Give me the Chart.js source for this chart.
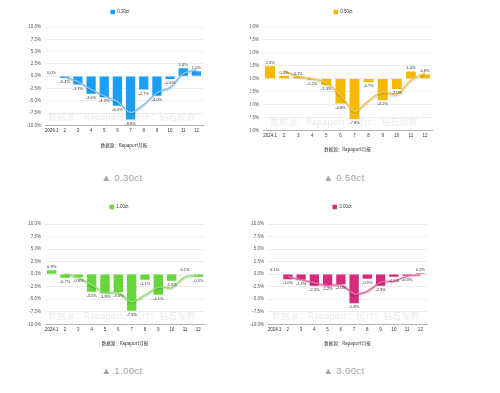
<!DOCTYPE html>
<html>
<head>
<meta charset="utf-8">
<script src="https://cdn.jsdelivr.net/npm/chart.js@4.4.1/dist/chart.umd.min.js"></script>
<style>
  body { margin: 0; background: #fff; width: 500px; height: 393px; position: relative; overflow: hidden; font-family: "Liberation Sans", Arial, sans-serif; }
  .box { position: absolute; width: 250px; }
  .cap { position: absolute; width: 250px; text-align: center; font-size: 9.5px; line-height: 12px; color: #a3a3a3; letter-spacing: 0.4px; }
</style>
</head>
<body>
<div class="box" id="b1" style="left:0;top:0;height:150px"><canvas id="c1"></canvas></div>
<div class="box" id="b2" style="left:250px;top:0;height:154px"><canvas id="c2"></canvas></div>
<div class="box" id="b3" style="left:0;top:200px;height:148px"><canvas id="c3"></canvas></div>
<div class="box" id="b4" style="left:250px;top:200px;height:148px"><canvas id="c4"></canvas></div>

<div class="cap" style="left:-3px;top:172px">▲ 0.30ct</div>
<div class="cap" style="left:219px;top:172px">▲ 0.50ct</div>
<div class="cap" style="left:-3px;top:365px">▲ 1.00ct</div>
<div class="cap" style="left:219px;top:365px">▲ 3.00ct</div>

<script>
// 月份
const months = ['2024.1', '2', '3', '4', '5', '6', '7', '8', '9', '10', '11', '12'];
const yTickValues = [-10, -7.5, -5, -2.5, 0, 2.5, 5, 7.5, 10];

// 每月涨跌幅 (%)
const bars030 = [0.0, -0.4, -1.7, -3.6, -4.3, -6.0, -8.8, -2.7, -4.0, -0.6, 1.6, 1.0];
const trend030 = [null, -0.2, -1.1, -2.7, -4.0, -5.2, -7.4, -5.8, -3.4, -2.3, 0.5, 1.3];

const bars050 = [2.4, 0.5, 0.3, -0.2, -1.3, -4.8, -7.8, -0.7, -4.2, -2.0, 1.4, 0.8];
const trend050 = [null, 1.5, 0.4, 0.0, -0.8, -3.1, -6.3, -4.3, -2.5, -3.1, -0.3, 1.1];

const bars100 = [0.8, -0.7, -0.6, -3.5, -3.8, -3.6, -7.3, -1.1, -4.1, -1.3, 0.1, -0.5];
const trend100 = [null, 0.1, -0.7, -2.1, -3.7, -3.7, -5.5, -4.2, -2.6, -2.7, -0.6, -0.2];

const bars300 = [0.1, -1.0, -1.1, -2.3, -2.2, -2.0, -5.8, -0.9, -2.3, -0.5, -0.3, 0.2];
const trend300 = [null, -0.5, -1.1, -1.7, -2.3, -2.1, -3.9, -3.4, -1.6, -1.4, -0.4, -0.1];

const sourceText = '数据源：Rapaport月报';
const watermarkText = '数据源：Rapaport；统计：钻石观察';

// 图例：多留一点空，并稍微挪动位置
const legendGap = {
  id: 'legendGap',
  beforeLayout(chart, args, opts) {
    const lg = chart.legend;
    if (lg && !lg._gapPatched) {
      const fit = lg.fit;
      const draw = lg.draw;
      lg.fit = function () { fit.call(this); this.height += opts.extra; };
      lg.draw = function () {
        this.ctx.save();
        this.ctx.translate(opts.dx, 0);
        draw.call(this);
        this.ctx.restore();
      };
      lg._gapPatched = true;
    }
  }
};

// 水印
const watermark = {
  id: 'watermark',
  beforeDatasetsDraw(chart, args, opts) {
    const { ctx, chartArea, scales } = chart;
    ctx.save();
    ctx.font = '9px "Noto Sans CJK SC", sans-serif';
    ctx.fillStyle = '#ebebeb';
    ctx.textBaseline = 'middle';
    ctx.fillText(watermarkText, chartArea.left + opts.dx, scales.y.getPixelForValue(-8.3));
    ctx.restore();
  }
};

// 柱子上的数值
const barLabels = {
  id: 'barLabels',
  afterDatasetsDraw(chart) {
    const ctx = chart.ctx;
    const idx = chart.data.datasets.findIndex(d => d.type === 'bar');
    const meta = chart.getDatasetMeta(idx);
    const vals = chart.data.datasets[idx].data;
    ctx.save();
    ctx.font = '4px "Liberation Sans", Arial, sans-serif';
    ctx.fillStyle = '#333';
    ctx.textAlign = 'center';
    meta.data.forEach((bar, i) => {
      const v = vals[i];
      const txt = v.toFixed(1) + '%';
      if (v >= 0) {
        ctx.textBaseline = 'bottom';
        ctx.fillText(txt, bar.x, bar.y - 1.5);
      } else {
        ctx.textBaseline = 'top';
        ctx.fillText(txt, bar.x, bar.y + 2);
      }
    });
    ctx.restore();
  }
};

// 趋势线阴影
const lineShadow = {
  id: 'lineShadow',
  beforeDatasetDraw(chart, args) {
    if (args.meta.type !== 'line') return;
    const ctx = chart.ctx;
    ctx.save();
    ctx.shadowColor = 'rgba(0,0,0,0.22)';
    ctx.shadowBlur = 2;
    ctx.shadowOffsetY = 1;
  },
  afterDatasetDraw(chart, args) {
    if (args.meta.type !== 'line') return;
    chart.ctx.restore();
  }
};

function crearGrafico(id, label, bars, trend, barColor, lineColor, p) {
  const ctx = document.getElementById(id).getContext('2d');
  return new Chart(ctx, {
    type: 'bar',
    data: {
      labels: months,
      datasets: [
        {
          type: 'line',
          label: 'trend',
          data: trend,
          borderColor: lineColor,
          borderWidth: 1.5,
          pointRadius: 0,
          tension: 0.3,
          fill: false,
          order: 0
        },
        {
          type: 'bar',
          label: label,
          data: bars,
          backgroundColor: barColor,
          barPercentage: 0.88,
          categoryPercentage: 0.8,
          order: 1
        }
      ]
    },
    options: {
      responsive: true,
      maintainAspectRatio: false,
      animation: false,
      devicePixelRatio: 1,
      layout: { padding: { left: p.L, right: p.R, top: p.T, bottom: 2 } },
      plugins: {
        legend: {
          position: 'top',
          labels: {
            boxWidth: 4.5,
            boxHeight: 4.5,
            padding: 3,
            color: '#333',
            font: { size: 4.5, family: '"Liberation Sans", Arial, sans-serif' },
            filter: item => item.datasetIndex === 1
          }
        },
        tooltip: { enabled: false },
        legendGap: { extra: p.extra, dx: p.ldx },
        watermark: { dx: p.dx }
      },
      scales: {
        x: {
          grid: { display: false, drawTicks: false },
          border: { display: true, color: '#b5b5b5', width: 1 },
          ticks: {
            color: '#333',
            padding: 3,
            maxRotation: 0,
            autoSkip: false,
            font: { size: 4.5, family: '"Liberation Sans", Arial, sans-serif' }
          },
          title: {
            display: true,
            text: sourceText,
            color: '#333',
            padding: { top: p.pt, bottom: 0 },
            font: { size: 4.5, family: '"Noto Sans CJK SC", sans-serif' }
          }
        },
        y: {
          min: -10,
          max: 10,
          afterBuildTicks: s => { s.ticks = yTickValues.map(v => ({ value: v })); },
          afterFit: s => { s.width = p.A; },
          grid: { color: '#e8e8e8', lineWidth: 0.8, drawTicks: false },
          border: { display: false },
          ticks: {
            color: '#555',
            padding: 4,
            font: { size: 4.5, family: '"Liberation Sans", Arial, sans-serif' },
            callback: v => Number(v).toFixed(1) + '%'
          }
        }
      }
    },
    plugins: [legendGap, watermark, barLabels, lineShadow]
  });
}

document.addEventListener('DOMContentLoaded', function () {
  crearGrafico('c1', '0.30ct', bars030, trend030, '#1b9ff4', '#7ec4ee',
    { L: 25, A: 20, R: 47, T: 6.75, extra: 2.75, pt: 5.9, dx: 3, ldx: 6 });
  crearGrafico('c2', '0.50ct', bars050, trend050, '#f6b900', '#f4c54e',
    { L: 0, A: 13, R: 68, T: 6.75, extra: 2.75, pt: 4.9, dx: 7, ldx: 2 });
  crearGrafico('c3', '1.00ct', bars100, trend100, '#66d63a', '#8fe36c',
    { L: 25, A: 20, R: 45, T: 1.75, extra: 4.75, pt: 4.9, dx: 3, ldx: 4 });
  crearGrafico('c4', '3.00ct', bars300, trend300, '#d62a7e', '#e56ba4',
    { L: 0, A: 18, R: 73, T: 1.75, extra: 4.75, pt: 4.9, dx: 4, ldx: 3.5 });
});
</script>
</body>
</html>
